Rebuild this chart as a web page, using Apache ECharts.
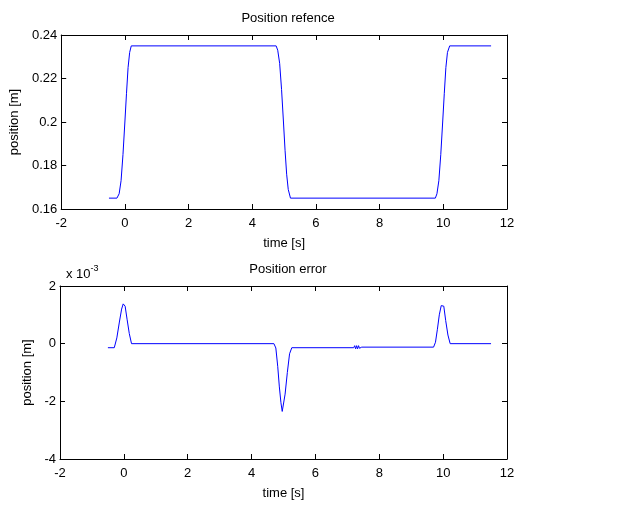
<!DOCTYPE html>
<html>
<head>
<meta charset="utf-8">
<script src="https://cdn.jsdelivr.net/npm/echarts@6/dist/echarts.min.js"></script>
<style>
  html, body { margin: 0; padding: 0; background: #fff; }
  #main { width: 644px; height: 505px; }
</style>
</head>
<body>
<div id="main"></div>
<script>
// 位置参考 (time [s], position [m])
var refTime = [-0.5, -0.25, -0.18, -0.12, -0.06, 0, 0.05, 0.1, 0.15, 0.2,
  4.75, 4.8, 4.86, 4.92, 4.98, 5.03, 5.08, 5.13, 5.2,
  9.75, 9.8, 9.86, 9.92, 9.98, 10.03, 10.08, 10.13, 10.2, 11.5];
var refPos = [0.165, 0.165, 0.167, 0.173, 0.185, 0.2, 0.213, 0.225, 0.232, 0.235,
  0.235, 0.233, 0.227, 0.215, 0.2, 0.187, 0.176, 0.169, 0.165,
  0.165, 0.167, 0.173, 0.185, 0.2, 0.213, 0.225, 0.232, 0.235, 0.235];

// 位置误差 (x 10^-3)
var errTime = [-0.5, -0.3, -0.22, -0.14, -0.07, -0.02, 0, 0.04, 0.1, 0.17, 0.24,
  4.7, 4.76, 4.82, 4.87, 4.92, 4.96, 5.0, 5.05, 5.12, 5.19, 5.26,
  7.2, 7.23, 7.26, 7.29, 7.32, 7.35, 7.38, 7.42, 7.45,
  9.7, 9.76, 9.82, 9.88, 9.94, 9.98, 10.02, 10.08, 10.15, 10.22, 11.5];
var errVal = [-0.14, -0.14, 0.2, 0.75, 1.2, 1.38, 1.4, 1.3, 0.85, 0.35, 0,
  0, -0.15, -0.8, -1.5, -2.05, -2.35, -2.3, -1.75, -1.0, -0.35, -0.14,
  -0.14, -0.07, -0.18, -0.07, -0.18, -0.07, -0.16, -0.1, -0.12,
  -0.12, 0.05, 0.5, 1.0, 1.32, 1.37, 1.3, 0.8, 0.3, 0, 0];

function pairs(xs, ys) {
  var out = [];
  for (var i = 0; i < xs.length; i++) out.push([xs[i], ys[i]]);
  return out;
}

var font = "Liberation Sans, Arial, sans-serif";
var axisLine = { show: true, onZero: false, lineStyle: { color: "#000", width: 1 } };
var tickIn = { show: true, inside: true, length: 5, lineStyle: { color: "#000" } };

function xAxes(grid) {
  return [
    {
      gridIndex: grid, type: "value", min: -2, max: 12, interval: 2,
      position: "bottom",
      name: "time [s]", nameLocation: "middle", nameGap: 28,
      nameTextStyle: { fontFamily: font, fontSize: 13, color: "#000" },
      axisLine: axisLine, axisTick: tickIn,
      axisLabel: { fontFamily: font, fontSize: 13, color: "#000", margin: 8 },
      splitLine: { show: false }
    },
    {
      gridIndex: grid, type: "value", min: -2, max: 12, interval: 2,
      position: "top",
      axisLine: axisLine, axisTick: tickIn,
      axisLabel: { show: false }, splitLine: { show: false }
    }
  ];
}

function yAxes(grid, min, max, step, gap, fmt) {
  return [
    {
      gridIndex: grid, type: "value", min: min, max: max, interval: step,
      position: "left",
      name: "position [m]", nameLocation: "middle", nameGap: gap, nameRotate: 90,
      nameTextStyle: { fontFamily: font, fontSize: 13, color: "#000" },
      axisLine: axisLine, axisTick: tickIn,
      axisLabel: { fontFamily: font, fontSize: 13, color: "#000", margin: 4, formatter: fmt },
      splitLine: { show: false }
    },
    {
      gridIndex: grid, type: "value", min: min, max: max, interval: step,
      position: "right",
      axisLine: axisLine, axisTick: tickIn, axisLabel: { show: false }, splitLine: { show: false }
    }
  ];
}

var chart = echarts.init(document.getElementById("main"));
var option = {
  backgroundColor: "#fff",
  animation: false,
  title: [
    { text: "Position refence", left: 283, top: 7, textAlign: "center",
      textStyle: { fontFamily: font, fontSize: 13, fontWeight: "normal", color: "#000" } },
    { text: "Position error", left: 283, top: 258, textAlign: "center",
      textStyle: { fontFamily: font, fontSize: 13, fontWeight: "normal", color: "#000" } },
    { text: "{a|x 10}{b|-3}", left: 61, top: 259,
      textStyle: { fontWeight: "normal", rich: {
        a: { fontFamily: font, fontSize: 13, fontWeight: "normal", color: "#000", verticalAlign: "bottom" },
        b: { fontFamily: font, fontSize: 9, fontWeight: "normal", color: "#000", verticalAlign: "top", padding: [0, 0, 8, 0] }
      } } }
  ],
  grid: [
    { left: 60, right: 137, top: 35, height: 174 },
    { left: 60, right: 137, top: 286, height: 173 }
  ],
  xAxis: xAxes(0).concat(xAxes(1)),
  yAxis: yAxes(0, 0.16, 0.24, 0.02, 37, function (v) { return String(+v.toFixed(2)); })
    .concat(yAxes(1, -4, 2, 2, 24, function (v) { return String(v); })),
  series: [
    {
      type: "line", xAxisIndex: 0, yAxisIndex: 0, showSymbol: false,
      lineStyle: { color: "#0000ff", width: 1 },
      data: pairs(refTime, refPos)
    },
    {
      type: "line", xAxisIndex: 2, yAxisIndex: 2, showSymbol: false,
      lineStyle: { color: "#0000ff", width: 1 },
      data: pairs(errTime, errVal)
    }
  ]
};
chart.setOption(option);
</script>
</body>
</html>
